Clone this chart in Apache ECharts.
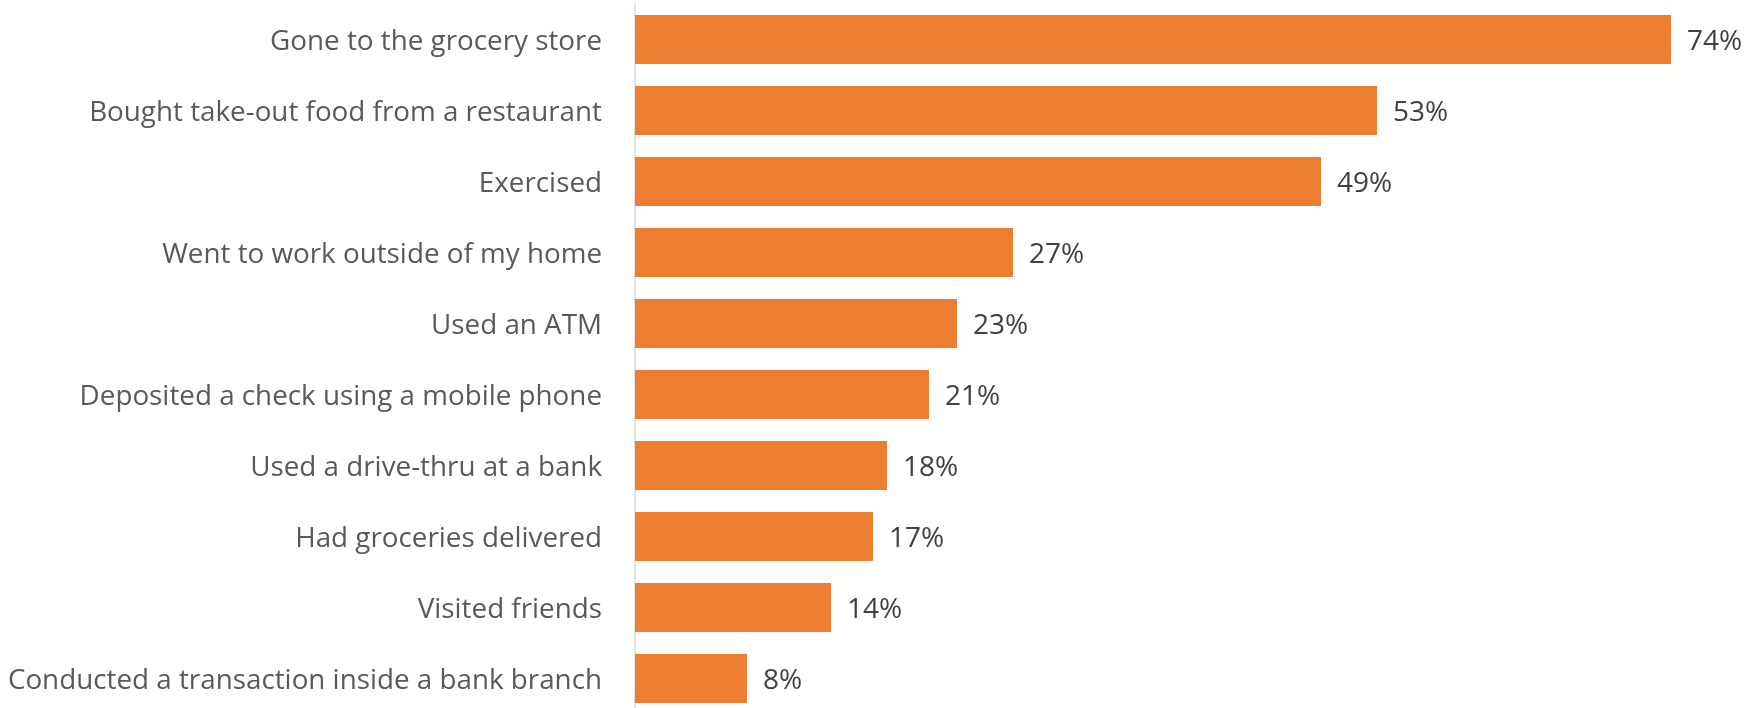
<!DOCTYPE html>
<html>
<head>
<meta charset="utf-8">
<script src="https://cdn.jsdelivr.net/npm/echarts@6/dist/echarts.min.js"></script>
<style>
  html, body { margin: 0; padding: 0; background: #fff; }
  #chart { width: 1761px; height: 708px; }
</style>
</head>
<body>
<div id="chart"></div>
<script>
// categories top to bottom
const categories = [
  'Gone to the grocery store',
  'Bought take-out food from a restaurant',
  'Exercised',
  'Went to work outside of my home',
  'Used an ATM',
  'Deposited a check using a mobile phone',
  'Used a drive-thru at a bank',
  'Had groceries delivered',
  'Visited friends',
  'Conducted a transaction inside a bank branch'
];
const values = [74, 53, 49, 27, 23, 21, 18, 17, 14, 8];

const chart = echarts.init(document.getElementById('chart'));

chart.setOption({
  animation: false,
  grid: { left: 635, top: 4, width: 1036, height: 710, outerBoundsMode: 'none' },
  xAxis: {
    type: 'value',
    min: 0,
    max: 74,
    show: false
  },
  yAxis: {
    type: 'category',
    inverse: true,
    data: categories,
    axisLine: { show: true, lineStyle: { color: '#d9d9d9', width: 1.5 } },
    axisTick: { show: false },
    axisLabel: {
      margin: 33,
      formatter: '{t|{value}}',
      rich: {
        t: {
          color: '#595959',
          fontFamily: 'Open Sans',
          fontSize: 27.8,
          padding: [5, 0, 0, 0]
        }
      }
    }
  },
  series: [{
    type: 'bar',
    data: values,
    barCategoryGap: '31%',
    itemStyle: { color: '#ed7d31' },
    label: {
      show: true,
      position: 'right',
      distance: 16,
      offset: [0, 3],
      formatter: '{c}%',
      color: '#404040',
      fontFamily: 'Open Sans',
      fontSize: 28
    }
  }]
});
</script>
</body>
</html>
